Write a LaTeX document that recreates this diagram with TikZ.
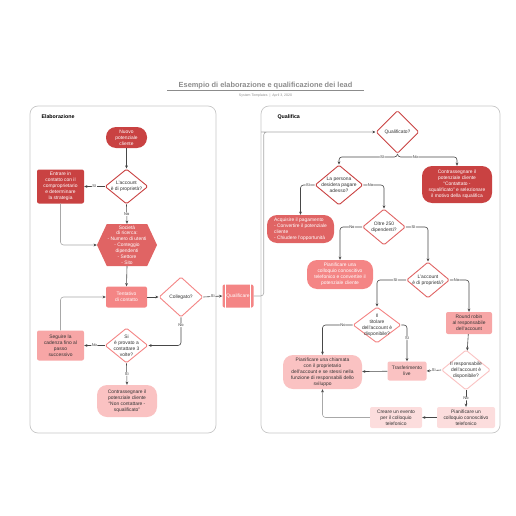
\documentclass[tikz,border=0pt]{standalone}
\usepackage{fontspec}
\setmainfont{Liberation Sans}
\usepackage{tikz}
\usetikzlibrary{shapes.geometric,shapes.symbols,arrows.meta}
\definecolor{redA}{HTML}{C94242}
\definecolor{redB}{HTML}{E06464}
\definecolor{redC}{HTML}{F48585}
\definecolor{pinkD}{HTML}{F7A6A6}
\definecolor{pinkE}{HTML}{FAC2C2}
\definecolor{pinkF}{HTML}{FCDDDD}
\definecolor{txt}{HTML}{333333}
\definecolor{lnk}{HTML}{474747}
\definecolor{lnkg}{HTML}{A8A8A8}

\begin{document}
\begin{tikzpicture}[x=1pt,y=-1pt,
  font=\fontsize{4.9}{5.9}\selectfont,
  box/.style={fill=#1,rounded corners=2pt,inner sep=0pt,align=center},
  pill/.style={fill=#1,rounded corners=10pt,inner sep=0pt,align=center},
  dia/.style={diamond,draw=#1,line width=0.9pt,fill=white,inner sep=0pt,rounded corners=1.5pt},
  lbl/.style={fill=white,inner sep=0.5pt,text=txt,font=\fontsize{4}{4.5}\selectfont},
  arr/.style={draw=lnk,line width=0.6pt,rounded corners=3pt,-{Stealth[length=3.2pt,width=2.8pt,color=lnk]}},
  arrg/.style={arr,draw=lnkg},
  panel/.style={draw=black!22,line width=0.7pt,rounded corners=8pt}]
  \useasboundingbox (0,0) rectangle (516,516);

  \node[text=black!45,font=\fontsize{7.4}{8}\selectfont\bfseries] (title) at (265.5,85.5) {Esempio di elaborazione e qualificazione dei lead};
  \draw[black!45,line width=0.5pt] (167,90.5) -- (364,90.5);
  \node[text=black!45,font=\fontsize{3.5}{4}\selectfont] (sub) at (265.5,96) {System Templates \ | \ April 3, 2020};

  \draw[panel] (30,106) rectangle (216,433);
  \draw[panel] (261,106) rectangle (500,433);
  \node[anchor=west,font=\fontsize{5.3}{6}\selectfont\bfseries] (elab) at (38,117) {Elaborazione};
  \node[anchor=west,font=\fontsize{5.3}{6}\selectfont\bfseries] (qlf) at (274,117) {Qualifica};

  \node[pill=redA,text=white,minimum width=41,minimum height=21] (nuovo) at (126.5,137.5) {Nuovo\\potenziale\\cliente};
  \node[dia=redA,minimum width=43,minimum height=35,label={[align=center,text=txt]center:{L'account\\è di proprietà?}}] (acc1) at (126.5,186.5) {};
  \node[box=redA,text=white,minimum width=47,minimum height=34] (entrare) at (60.5,186.5) {Entrare in\\contatto con il\\comproprietario\\e determinare\\la strategia};
  \node[signal,signal to=west and east,signal pointer angle=130,fill=redB,inner sep=0pt,minimum width=60,minimum height=42,
    label={[align=center,text=white]center:{Società\\di ricerca:\\- Numero di utenti\\- Conteggio\\dipendenti\\- Settore\\- Sito}}] (soc) at (127,245) {};
  \node[box=redC,text=white,minimum width=41,minimum height=21] (tent) at (126.5,297) {Tentativo\\di contatto};
  \node[dia=redC,minimum width=44,minimum height=40,label={[text=txt]center:Collegato?}] (coll) at (181,297) {};
  \node[box=redC,text=white,minimum width=31,minimum height=23] (qual) at (238,296) {Qualificare};
  \draw[white,line width=0.6pt] ([xshift=3pt]qual.north west) -- ([xshift=3pt]qual.south west);
  \draw[white,line width=0.6pt] ([xshift=-3pt]qual.north east) -- ([xshift=-3pt]qual.south east);
  \node[dia=redC,minimum width=43,minimum height=35,label={[align=center,text=txt]center:{Si\\è provato a\\contattare 3\\volte?}}] (prov) at (126.5,345.5) {};
  \node[box=pinkD,text=txt,minimum width=47,minimum height=30] (seg) at (60.5,345.5) {Seguire la\\cadenza fino al\\passo\\successivo};
  \node[pill=pinkE,text=txt,minimum width=60,minimum height=32] (contr1) at (127,401) {Contrassegnare il\\potenziale cliente\\``Non contattare -\\squalificato''};

  \draw[arr] (nuovo) -- (acc1);
  \draw[arr] (acc1.west) -- node[lbl]{Sì} (entrare.east);
  \draw[arr] (acc1.south) -- node[lbl]{No} (soc.north);
  \draw[arrg] (entrare.south) |- (soc.west);
  \draw[arr] (soc.south) -- (tent.north);
  \draw[arr] (tent) -- (coll);
  \draw[arr] (coll.east) -- node[lbl]{Sì} (qual.west);
  \draw[arr] (coll.south) |- node[lbl,pos=.14]{No} (prov.east);
  \draw[arr] (prov.west) -- node[lbl]{No} (seg.east);
  \draw[arr] (prov.south) -- node[lbl]{Sì} (contr1.north);
  \draw[arrg] (seg.north) |- (tent.west);
  \draw[arrg] (qual.east) -- ++(10,0) |- (264,132) -- (375.5,132);

  \node[dia=redA,minimum width=43,minimum height=43,label={[text=txt]center:Qualificato?}] (qf) at (397.5,132) {};
  \node[pill=redA,text=white,minimum width=70,minimum height=37] (contr2) at (457,184.5) {Contrassegnare il\\potenziale cliente\\``Contattato -\\squalificato'' e selezionare\\il motivo della squalifica};
  \node[dia=redA,minimum width=48,minimum height=40,label={[align=center,text=txt]center:{La persona\\desidera pagare\\adesso?}}] (pers) at (339,185) {};
  \node[pill=redB,text=white,minimum width=67,minimum height=28,align=left] (acq) at (300.5,229) {Acquisire il pagamento\\- Convertire il potenziale\\cliente\\- Chiudere l'opportunità};
  \node[dia=redB,minimum width=43,minimum height=36,label={[align=center,text=txt]center:{Oltre 250\\dipendenti?}}] (oltre) at (384,227) {};
  \node[pill=redC,text=white,minimum width=66,minimum height=29] (pian1) at (340,274.5) {Pianificare una\\colloquio conoscitivo\\telefonico e convertire il\\potenziale cliente};
  \node[dia=redB,minimum width=43,minimum height=36,label={[align=center,text=txt]center:{L'account\\è di proprietà?}}] (acc2) at (428,280) {};
  \node[dia=redC,minimum width=48,minimum height=36,label={[align=center,text=txt]center:{Il\\titolare\\dell'account è\\disponibile?}}] (tit) at (377,325) {};
  \node[box=pinkD,text=txt,minimum width=46,minimum height=22] (rr) at (469,323) {Round robin\\al responsabile\\dell'account};
  \node[pill=pinkE,text=txt,minimum width=79,minimum height=34] (pian2) at (322.5,372) {Pianificare una chiamata\\con il proprietario\\dell'account e se stessi nella\\funzione di responsabili dello\\sviluppo};
  \node[box=pinkE,text=txt,minimum width=39,minimum height=19] (tras) at (407,371) {Trasferimento\\live};
  \node[dia=pinkE,minimum width=49,minimum height=40,label={[align=center,text=txt]center:{Il responsabile\\dell'account è\\disponibile?}}] (resp) at (466,370) {};
  \node[box=pinkF,text=txt,minimum width=58,minimum height=21] (pian3) at (466,417.5) {Pianificare un\\colloquio conoscitivo\\telefonico};
  \node[box=pinkF,text=txt,minimum width=52,minimum height=21] (creare) at (396,417.5) {Creare un evento\\per il colloquio\\telefonico};

  \draw[arr] (qf.south) -- ++(0,3) -| node[lbl,pos=.13]{Sì} (pers.north);
  \draw[arr] (qf.south) -- ++(0,3) -| node[lbl,pos=.15]{No} (contr2.north);
  \draw[arr] (pers.west) -| node[lbl,pos=.23]{Sì} (acq.north);
  \draw[arr] (pers.east) -| node[lbl,pos=.17]{No} (oltre.north);
  \draw[arr] (oltre.west) -| node[lbl,pos=.23]{No} (pian1.north);
  \draw[arr] (oltre.east) -| node[lbl,pos=.17]{Sì} (acc2.north);
  \draw[arr] (acc2.west) -| node[lbl,pos=.18]{Sì} (tit.north);
  \draw[arr] (acc2.east) -| node[lbl,pos=.17]{No} (rr.north);
  \draw[arr] (tit.west) -| node[lbl,pos=.16]{No} (pian2.north);
  \draw[arr] (tit.east) -| node[lbl,pos=.68]{Sì} (tras.north);
  \draw[arr] (tras) -- (pian2);
  \draw[arr] (rr) -- (resp);
  \draw[arr] (resp.west) -- node[lbl]{Sì} (tras.east);
  \draw[arr] (resp.south) -- node[lbl]{No} (pian3.north);
  \draw[arr] (pian3) -- (creare);
  \draw[arrg] (creare.west) -| (pian2.south);
\end{tikzpicture}
\end{document}
